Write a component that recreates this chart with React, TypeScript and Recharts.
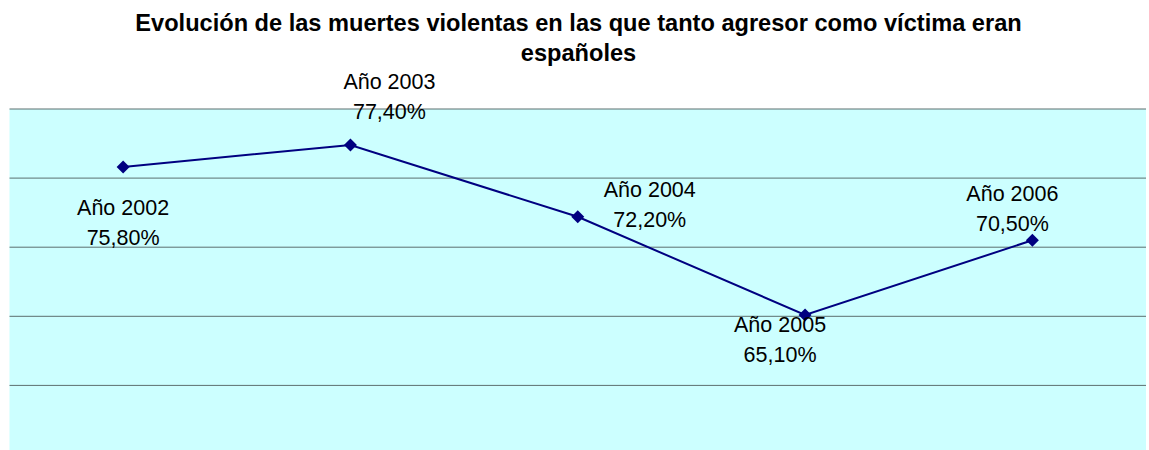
import React from 'react';
import { LineChart, Line, XAxis, YAxis, CartesianGrid } from 'recharts';

const years = ['2002', '2003', '2004', '2005', '2006'];
const percentages = [75.8, 77.4, 72.2, 65.1, 70.5];
const yTicks = [55, 60, 65, 70, 75, 80];

// where Excel put each data label, relative to its point (centre x, first baseline)
const labelDx = [0, 39, 72, -25, -20];
const labelDy = [48, -56, -20, 17, -39];

const data = years.map((year, i) => ({ year, pct: percentages[i] }));

const fmt = (v: number) => v.toFixed(2).replace('.', ',') + '%';

const Diamond = (props: any) => {
  const { cx, cy } = props;
  if (cx == null || cy == null) return null;
  return <path d={`M${cx},${cy - 6.5}L${cx + 6.5},${cy}L${cx},${cy + 6.5}L${cx - 6.5},${cy}Z`} fill="#000080" />;
};

const PointLabel = (props: any) => {
  const { x, y, index, value } = props;
  const cx = x + labelDx[index];
  const by = y + labelDy[index];
  return (
    <text textAnchor="middle" fontFamily="'Liberation Sans', Arial, sans-serif" fontSize={21.5} fill="#000">
      <tspan x={cx} y={by}>{`Año ${years[index]}`}</tspan>
      <tspan x={cx} y={by + 30}>{fmt(value)}</tspan>
    </text>
  );
};

export default function App() {
  return (
    <div style={{ position: 'relative', width: 1149, height: 450, overflow: 'hidden', background: '#fff' }}>
      <style>{'body{margin:0}'}</style>
      <div
        style={{
          position: 'absolute',
          top: 8,
          left: 8,
          width: 1141,
          textAlign: 'center',
          fontFamily: "'Liberation Sans', Arial, sans-serif",
          fontWeight: 'bold',
          fontSize: 23.6,
          lineHeight: '30px',
          color: '#000',
        }}
      >
        Evolución de las muertes violentas en las que tanto agresor como víctima eran
        <br />
        españoles
      </div>
      <LineChart width={1149} height={460} data={data} margin={{ top: 109, left: 9.5, right: 3, bottom: 5.5 }}>
        <CartesianGrid horizontal vertical={false} fill="#CCFFFF" stroke="#5c6f6f" strokeWidth={1} />
        <XAxis dataKey="year" hide padding={{ left: 113.6, right: 113.6 }} />
        <YAxis hide domain={[55, 80]} ticks={yTicks} />
        <Line
          dataKey="pct"
          stroke="#000080"
          strokeWidth={2}
          dot={<Diamond />}
          activeDot={false}
          label={<PointLabel />}
          isAnimationActive={false}
        />
      </LineChart>
    </div>
  );
}
